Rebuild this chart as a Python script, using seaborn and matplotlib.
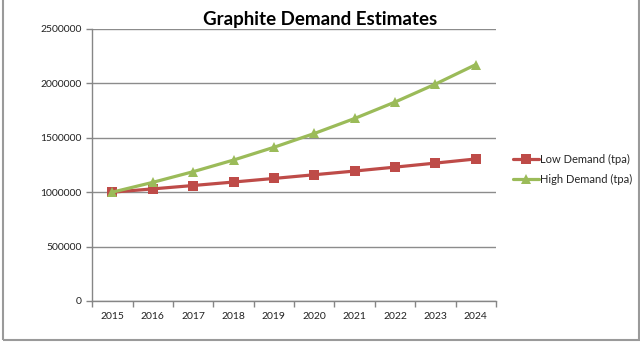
import matplotlib
matplotlib.use("Agg")
import matplotlib.pyplot as plt
import seaborn as sns
import pandas as pd
from matplotlib.patches import Rectangle
from matplotlib.ticker import FixedLocator

years = [2015, 2016, 2017, 2018, 2019, 2020, 2021, 2022, 2023, 2024]
low_demand = [1000000, 1030000, 1061000, 1093000, 1126000, 1160000, 1194000, 1230000, 1267000, 1305000]
high_demand = [1000000, 1090000, 1188000, 1295000, 1412000, 1539000, 1677000, 1828000, 1993000, 2172000]
series_names = ["Low Demand (tpa)", "High Demand (tpa)"]
y_ticks = [0, 500000, 1000000, 1500000, 2000000, 2500000]

df = pd.DataFrame({
    "year": years * 2,
    "value": low_demand + high_demand,
    "series": [series_names[0]] * len(years) + [series_names[1]] * len(years),
})

sns.set_theme(style="white")
plt.rcParams["font.family"] = ["Lato", "DejaVu Sans"]

fig = plt.figure(figsize=(6.4, 3.44), dpi=100)
ax = fig.add_axes([0.144, 0.125, 0.631, 0.791])

palette = {series_names[0]: "#BE4B48", series_names[1]: "#9BBB59"}
markers = {series_names[0]: "s", series_names[1]: "^"}
sns.lineplot(data=df, x="year", y="value", hue="series", style="series",
             palette=palette, markers=markers, dashes=False, markersize=7,
             markeredgewidth=0, linewidth=2.3, ax=ax, legend=True)

ax.set_xlim(2014.5, 2024.5)
ax.set_ylim(0, 2500000)
ax.set_yticks(y_ticks)
ax.set_yticklabels([str(v) for v in y_ticks], fontsize=7.5)
ax.set_xticks(years)
ax.set_xticklabels([str(y) for y in years], fontsize=7.5)
ax.xaxis.set_minor_locator(FixedLocator([y - 0.5 for y in years] + [2024.5]))
ax.tick_params(axis="x", which="major", length=0, pad=8, colors="#222222")
ax.tick_params(axis="x", which="minor", length=4, width=1, color="#868686", direction="out", bottom=True)
ax.tick_params(axis="y", which="major", length=4, width=1, color="#868686", direction="out", left=True,
               labelcolor="#222222")
ax.yaxis.grid(True, color="#8c8c8c", linewidth=1)
ax.xaxis.grid(False)
ax.set_axisbelow(True)
for s in ["top", "right"]:
    ax.spines[s].set_visible(False)
for s in ["left", "bottom"]:
    ax.spines[s].set_color("#868686")
    ax.spines[s].set_linewidth(1)
ax.set_xlabel("")
ax.set_ylabel("")

leg = ax.legend(loc="upper left", bbox_to_anchor=(1.03, 0.556), frameon=False,
                fontsize=8, handlelength=2.4, handletextpad=0.1, labelspacing=0.8,
                borderaxespad=0)

fig.text(0.5, 0.918, "Graphite Demand Estimates", ha="center", va="bottom",
         fontsize=13.5, fontweight="bold", color="black")

fig.patches.append(Rectangle((0.004, 0.012), 0.995, 1.1, transform=fig.transFigure,
                             fill=False, edgecolor="#9a9a9a", linewidth=1.5))

fig.savefig("out.png", dpi=100)
